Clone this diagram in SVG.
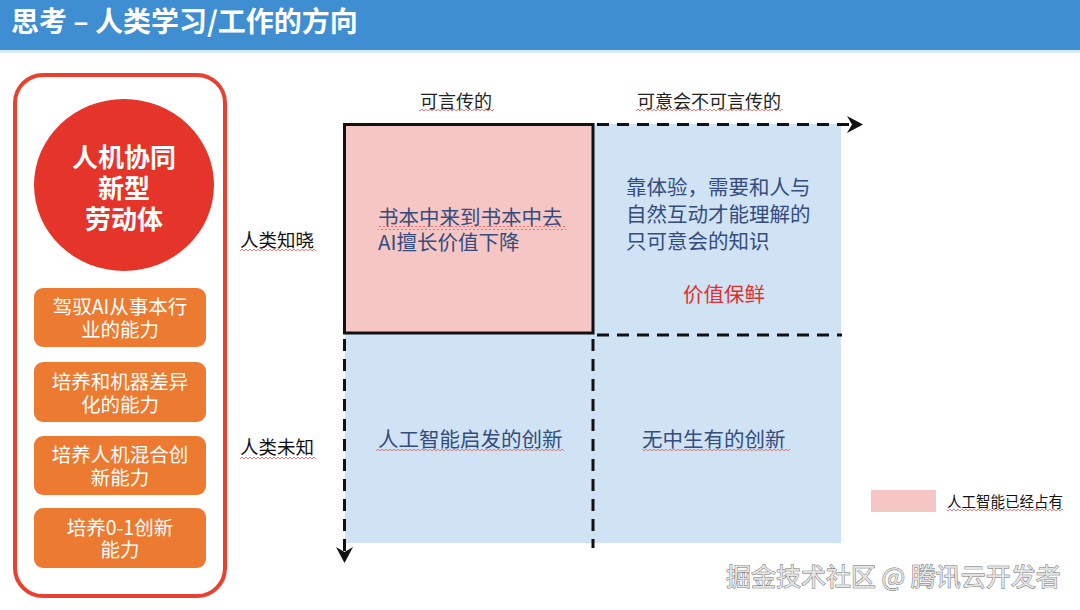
<svg xmlns="http://www.w3.org/2000/svg" width="1080" height="610" viewBox="0 0 1080 610">
<style>
.cjk{font-family:"Noto Sans CJK SC","Noto Sans",sans-serif}
.title{font-size:28px;font-weight:bold;fill:#ffffff}
.circ{font-size:26px;font-weight:bold;fill:#ffffff;text-anchor:middle}
.box{font-size:19.5px;fill:#ffffff;text-anchor:middle}
.hdr{font-size:18px;fill:#222222;text-anchor:middle}
.axis{font-size:18.5px;fill:#111111}
.body{font-size:20.5px;fill:#344C7E}
.red{font-size:20.5px;fill:#E0312C;text-anchor:middle}
.leg{font-size:14.5px;fill:#111111}
.wm{font-size:25px;fill:#e4e4e4;stroke:#6a6a6a;stroke-width:0.9;paint-order:stroke}
.obox{fill:#EC7B31}
.dash{stroke:#111111;stroke-width:3;fill:none;stroke-dasharray:12 8}
</style>
<defs>
<pattern id="wv" width="4" height="4" patternUnits="userSpaceOnUse">
<path d="M0 3 L2 1 L4 3" fill="none" stroke="#E0605A" stroke-width="0.8"/>
</pattern>
</defs>

<g id="header">
<rect x="0" y="0" width="1080" height="50" fill="#3E8ED1"/>
<rect x="0" y="50" width="1080" height="3" fill="#DCEAF7"/>
<text class="cjk title" x="11" y="32">思考 – 人类学习/工作的方向</text>
</g>

<g id="left-panel">
<rect x="15" y="75" width="210" height="521" rx="28" ry="28" fill="#ffffff" stroke="#E8412F" stroke-width="4"/>
</g>

<g id="circle">
<ellipse cx="124" cy="185" rx="90" ry="86" fill="#E5342A"/>
<text class="cjk circ" x="124" y="167">人机协同<tspan x="124" dy="31">新型</tspan><tspan x="124" dy="31">劳动体</tspan></text>
</g>

<g id="box1">
<rect class="obox" x="34" y="288" width="172" height="59" rx="9"/>
<text class="cjk box" x="120" y="314">驾驭AI从事本行<tspan x="120" dy="23">业的能力</tspan></text>
</g>
<g id="box2">
<rect class="obox" x="34" y="362" width="172" height="60" rx="9"/>
<text class="cjk box" x="120" y="389">培养和机器差异<tspan x="120" dy="23">化的能力</tspan></text>
</g>
<g id="box3">
<rect class="obox" x="34" y="436" width="172" height="59" rx="9"/>
<text class="cjk box" x="120" y="462">培养人机混合创<tspan x="120" dy="23">新能力</tspan></text>
</g>
<g id="box4">
<rect class="obox" x="34" y="508" width="172" height="60" rx="9"/>
<text class="cjk box" x="120" y="535">培养0-1创新<tspan x="120" dy="22">能力</tspan></text>
</g>

<g id="quadrants">
<rect x="345" y="124" width="496" height="419" fill="#CFE3F5"/>
<rect x="344.5" y="124.5" width="248.5" height="208.5" fill="#F5C6C4" stroke="#111111" stroke-width="3"/>
</g>

<g id="connectors">
<line class="dash" x1="597" y1="124.5" x2="850" y2="124.5"/>
<path d="M863 124.5 L847 116 L852 124.5 L847 133 Z" fill="#111111"/>
<line class="dash" x1="597" y1="335" x2="842" y2="335"/>
<line class="dash" x1="344.5" y1="339" x2="344.5" y2="552"/>
<path d="M344.5 563 L336 547 L344.5 552 L353 547 Z" fill="#111111"/>
<line class="dash" x1="593" y1="339" x2="593" y2="548"/>
</g>

<g id="labels">
<text class="cjk hdr" x="456" y="108">可言传的</text>
<rect x="419" y="108" width="75" height="4" fill="url(#wv)"/>
<text class="cjk hdr" x="709" y="108">可意会不可言传的</text>
<rect x="636" y="108" width="147" height="4" fill="url(#wv)"/>
<text class="cjk axis" x="240" y="247">人类知晓</text>
<rect x="240" y="249" width="76" height="4" fill="url(#wv)"/>
<text class="cjk axis" x="240" y="454">人类未知</text>
<rect x="240" y="456" width="76" height="4" fill="url(#wv)"/>
</g>

<g id="q-top-left">
<text class="cjk body" x="378" y="225">书本中来到书本中去<tspan x="378" dy="25">AI擅长价值下降</tspan></text>
<rect x="378" y="226" width="188" height="4" fill="url(#wv)"/>
</g>

<g id="q-top-right">
<text class="cjk body" x="626" y="195">靠体验，需要和人与<tspan x="626" dy="27">自然互动才能理解的</tspan><tspan x="626" dy="27">只可意会的知识</tspan></text>
<text class="cjk red" x="724" y="302">价值保鲜</text>
</g>

<g id="q-bottom-left">
<text class="cjk body" x="378" y="447">人工智能启发的创新</text>
<rect x="376" y="448" width="188" height="4" fill="url(#wv)"/>
</g>

<g id="q-bottom-right">
<text class="cjk body" x="642" y="447">无中生有的创新</text>
<rect x="642" y="448" width="148" height="4" fill="url(#wv)"/>
</g>

<g id="legend">
<rect x="871" y="490" width="65" height="22" fill="#F5C6C4"/>
<text class="cjk leg" x="947" y="507">人工智能已经占有</text>
<rect x="947" y="509" width="116" height="4" fill="url(#wv)"/>
</g>

<g id="watermark">
<text class="cjk wm" x="726" y="586">掘金技术社区 @ 腾讯云开发者</text>
</g>
</svg>
